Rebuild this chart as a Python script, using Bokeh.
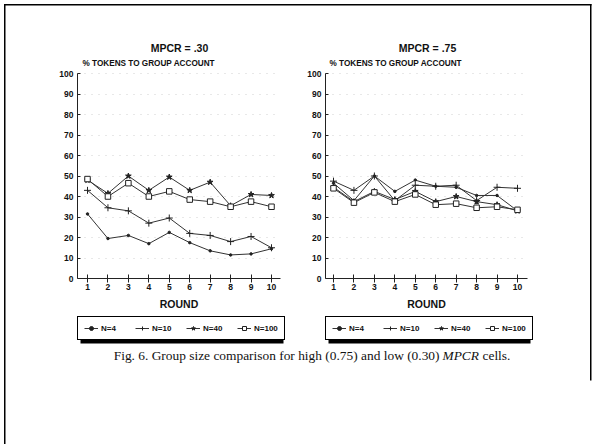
from bokeh.plotting import figure
from bokeh.models import (Range1d, LinearAxis, FixedTicker, Grid, Legend, LegendItem,
                          Label, BoxAnnotation)
from bokeh.embed import file_html
from bokeh.resources import INLINE

# ---------------- data ----------------
rounds = [1, 2, 3, 4, 5, 6, 7, 8, 9, 10]
series_labels = ["N=4", "N=10", "N=40", "N=100"]

# MPCR = .30
low_n4 = [31.5, 19.5, 21.0, 17.0, 22.5, 17.5, 13.5, 11.5, 12.0, 14.5]
low_n10 = [43.0, 34.5, 33.0, 27.0, 29.5, 22.0, 21.0, 18.0, 20.5, 15.0]
low_n40 = [48.0, 41.5, 50.0, 43.0, 49.5, 43.0, 47.0, 35.5, 41.0, 40.5]
low_n100 = [48.5, 40.0, 46.5, 40.0, 42.5, 38.5, 37.5, 35.0, 37.5, 35.0]

# MPCR = .75
high_n4 = [46.5, 38.0, 50.0, 42.5, 48.0, 45.0, 44.5, 40.5, 40.5, 33.0]
high_n10 = [47.5, 43.0, 50.0, 38.0, 45.5, 45.0, 45.5, 38.0, 44.5, 44.0]
high_n40 = [44.5, 37.5, 42.5, 38.5, 42.5, 37.5, 40.0, 37.5, 36.0, 33.0]
high_n100 = [44.0, 37.0, 42.0, 37.5, 41.0, 36.0, 36.5, 34.5, 35.0, 33.5]

y_ticks = [0, 10, 20, 30, 40, 50, 60, 70, 80, 90, 100]
panel_titles = ["MPCR = .30", "MPCR = .75"]
y_title = "% TOKENS TO GROUP ACCOUNT"
x_title = "ROUND"
caption_a = "Fig. 6. Group size comparison for high (0.75) and low (0.30)"
caption_b = "MPCR"
caption_c = "cells."

# ---------------- page ----------------
W, H = 594, 444
SANS = "Liberation Sans"
SERIF = "Liberation Serif"
INK = "#222222"

p = figure(width=W, height=H, x_range=Range1d(0, W), y_range=Range1d(H, 0),
           x_axis_type=None, y_axis_type=None, toolbar_location=None,
           output_backend="svg", min_border=0, outline_line_color=None)
p.title.visible = False
p.background_fill_color = "white"
p.border_fill_color = "white"

# page frame (scanned page edge)
for l, r, t, b in [(3.5, 5.0, 3.5, 460), (3.5, 591.0, 3.5, 5.0), (589.5, 591.0, 3.5, 380)]:
    p.add_layout(BoxAnnotation(left=l, right=r, top=t, bottom=b, fill_color="black",
                               fill_alpha=1, line_color=None))

markers = [
    dict(marker="circle", size=2.5, fill_color=INK, line_color=INK, line_width=1),
    dict(marker="cross", size=7, fill_color=INK, line_color=INK, line_width=1),
    dict(marker="star", size=6, fill_color=INK, line_color=INK, line_width=1),
    dict(marker="square", size=5.5, fill_color="white", line_color=INK, line_width=1),
]

panels = [
    dict(key="L", data=[low_n4, low_n10, low_n40, low_n100], title=panel_titles[0],
         ax0=77, ax1=280, x1=87, x10=271, y0=278, y100=73, title_x=179, ylab_x=82),
    dict(key="R", data=[high_n4, high_n10, high_n40, high_n100], title=panel_titles[1],
         ax0=325, ax1=527, x1=333, x10=517, y0=278, y100=73, title_x=427, ylab_x=329),
]

has_cross = "cross_bounds" in Grid.properties()

for pn in panels:
    k = pn["key"]
    sx = (pn["x10"] - pn["x1"]) / 9.0
    sy = (pn["y0"] - pn["y100"]) / 100.0
    xk, yk = "x" + k, "y" + k
    p.extra_x_ranges[xk] = Range1d(1 - pn["x1"] / sx, 1 + (W - pn["x1"]) / sx)
    p.extra_y_ranges[yk] = Range1d((pn["y0"] - H) / sy, pn["y0"] / sy)
    xb0 = 1 + (pn["ax0"] - pn["x1"]) / sx
    xb1 = 1 + (pn["ax1"] - pn["x1"]) / sx

    # grid
    g = Grid(dimension=1, ticker=FixedTicker(ticks=y_ticks[1:]), x_range_name=xk,
             y_range_name=yk, grid_line_color="#d0d0d0", grid_line_dash="1 6",
             grid_line_width=1)
    if has_cross:
        g.cross_bounds = (xb0, xb1)
        p.add_layout(g)
    else:
        p.segment(x0=[xb0] * 10, x1=[xb1] * 10, y0=y_ticks[1:], y1=y_ticks[1:],
                  x_range_name=xk, y_range_name=yk, line_color="#d0d0d0",
                  line_dash="1 6", line_width=1)

    # axes
    xa = LinearAxis(x_range_name=xk, y_range_name=yk, fixed_location=0, bounds=(xb0, xb1),
                    ticker=FixedTicker(ticks=rounds), axis_label=x_title)
    xa.major_tick_in = 4
    xa.major_tick_out = 4
    xa.minor_tick_line_color = None
    xa.major_label_standoff = 1
    xa.axis_label_standoff = 5
    p.add_layout(xa, "below")
    ya = LinearAxis(x_range_name=xk, y_range_name=yk, fixed_location=xb0, bounds=(0, 100),
                    ticker=FixedTicker(ticks=y_ticks))
    ya.major_tick_in = 3
    ya.major_tick_out = 0
    ya.minor_tick_line_color = None
    ya.major_label_standoff = 4
    p.add_layout(ya, "left")
    for a in (xa, ya):
        a.axis_line_color = INK
        a.major_tick_line_color = INK
        a.major_label_text_font = SANS
        a.major_label_text_font_style = "bold"
        a.major_label_text_font_size = "8.5px"
        a.major_label_text_color = "#111111"
        a.axis_label_text_font = SANS
        a.axis_label_text_font_style = "bold"
        a.axis_label_text_font_size = "10.5px"
        a.axis_label_text_color = "#111111"

    # series
    items = []
    for lab, vals, mk in zip(series_labels, pn["data"], markers):
        lr = p.line(rounds, vals, x_range_name=xk, y_range_name=yk, line_color="#333333",
                    line_width=1)
        sr = p.scatter(rounds, vals, x_range_name=xk, y_range_name=yk, **mk)
        items.append(LegendItem(label=lab, renderers=[lr, sr]))

    # titles
    p.add_layout(Label(x=pn["title_x"], y=47, text=pn["title"], text_align="center",
                       text_baseline="middle", text_font=SANS, text_font_size="10.5px",
                       text_font_style="bold", text_color="#111111"))
    p.add_layout(Label(x=pn["ylab_x"], y=63, text=y_title, text_align="left",
                       text_baseline="middle", text_font=SANS, text_font_size="8.2px",
                       text_font_style="bold", text_color="#111111"))

    # legend with shadow
    p.add_layout(BoxAnnotation(left=pn["ax0"] + 3, right=pn["ax1"] + 3, top=321, bottom=343,
                               fill_color="black", fill_alpha=1, line_color=None))
    leg = Legend(items=items, orientation="horizontal", location=(pn["ax0"], H - 340),
                 glyph_width=14, glyph_height=10, label_height=10, label_standoff=3,
                 spacing=14, padding=6, margin=0, border_line_color="black",
                 border_line_width=1, border_line_alpha=1, background_fill_color="white",
                 background_fill_alpha=1, label_text_font=SANS, label_text_font_size="8px",
                 label_text_font_style="bold", label_text_color="#111111")
    p.add_layout(leg)

# caption
p.add_layout(Label(x=439, y=355, text=caption_a, text_align="right", text_baseline="middle",
                   text_font=SERIF, text_font_size="13.4px", text_color="#111111"))
p.add_layout(Label(x=442, y=355, text=caption_b, text_align="left", text_baseline="middle",
                   text_font=SERIF, text_font_size="13.4px", text_font_style="italic",
                   text_color="#111111"))
p.add_layout(Label(x=482, y=355, text=caption_c, text_align="left", text_baseline="middle",
                   text_font=SERIF, text_font_size="13.4px", text_color="#111111"))

open("out.html", "w").write(file_html(p, INLINE))
